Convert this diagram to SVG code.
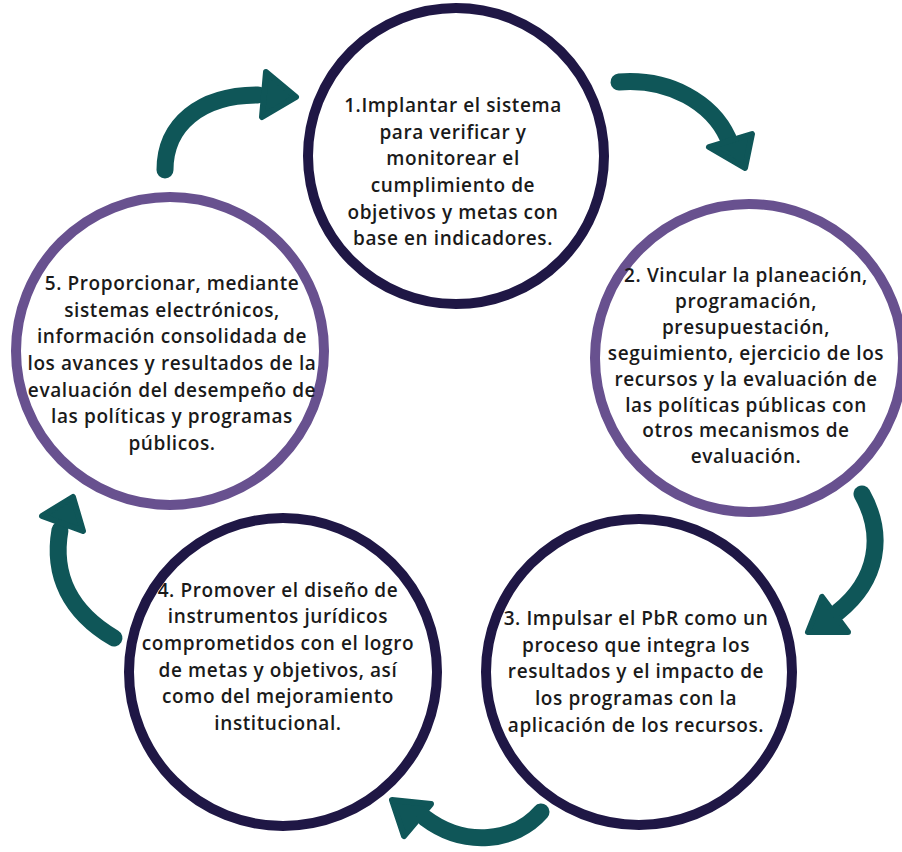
<svg xmlns="http://www.w3.org/2000/svg" width="902" height="852" viewBox="0 0 902 852">
<defs>
<style>
.navy{fill:#ffffff;stroke:#1f1745;stroke-width:10}
.purple{fill:#ffffff;stroke:#68518f;stroke-width:10}
.lbl{font-family:"Open Sans","Liberation Sans",sans-serif;font-weight:600;font-size:19px;letter-spacing:0.6px;fill:#1a1a1a;text-anchor:middle}
.shaft{fill:none;stroke:#0f5658;stroke-width:17;stroke-linecap:round}
.head{fill:#0f5658;stroke:#0f5658;stroke-width:6;stroke-linejoin:round}
</style>
</defs>
<rect width="902" height="852" fill="#ffffff"/>
<g id="connectors">
<path class="shaft" d="M165,170 C165,125 200,95 258,95"/>
<polygon class="head" points="266,72 296,97 262,117"/>
<path class="shaft" d="M619,82 C670,78 712,103 728,138"/>
<polygon class="head" points="709,147 752,134 745,168"/>
<path class="shaft" d="M862,494 C885,535 878,580 838,612"/>
<polygon class="head" points="822,597 808,632 848,632"/>
<path class="shaft" d="M541,812 C515,842 465,848 425,818"/>
<polygon class="head" points="392,800 431,804 404,836"/>
<path class="shaft" d="M114,638 C70,612 52,575 60,530"/>
<polygon class="head" points="42,516 73,497 83,531"/>
</g>
<g id="node1">
<circle class="navy" cx="456" cy="156" r="148"/>
<text class="lbl"><tspan x="453" y="112">1.Implantar el sistema</tspan><tspan x="453" y="138.7">para verificar y</tspan><tspan x="453" y="165.3">monitorear el</tspan><tspan x="453" y="192">cumplimiento de</tspan><tspan x="453" y="218.7">objetivos y metas con</tspan><tspan x="453" y="245.3">base en indicadores.</tspan></text>
</g>
<g id="node2">
<circle class="purple" cx="749" cy="358" r="154"/>
<text class="lbl"><tspan x="746" y="282">2. Vincular la planeación,</tspan><tspan x="746" y="308">programación,</tspan><tspan x="746" y="334">presupuestación,</tspan><tspan x="746" y="360">seguimiento, ejercicio de los</tspan><tspan x="746" y="386">recursos y la evaluación de</tspan><tspan x="746" y="412">las políticas públicas con</tspan><tspan x="746" y="437">otros mecanismos de</tspan><tspan x="746" y="463">evaluación.</tspan></text>
</g>
<g id="node3">
<circle class="navy" cx="639" cy="672" r="153"/>
<text class="lbl"><tspan x="636" y="625">3. Impulsar el PbR como un</tspan><tspan x="636" y="651.7">proceso que integra los</tspan><tspan x="636" y="678.3">resultados y el impacto de</tspan><tspan x="636" y="705">los programas con la</tspan><tspan x="636" y="731.7">aplicación de los recursos.</tspan></text>
</g>
<g id="node4">
<circle class="navy" cx="283" cy="672" r="154"/>
<text class="lbl"><tspan x="278" y="596.7">4. Promover el diseño de</tspan><tspan x="278" y="623.3">instrumentos jurídicos</tspan><tspan x="278" y="650">comprometidos con el logro</tspan><tspan x="278" y="676.7">de metas y objetivos, así</tspan><tspan x="278" y="703.3">como del mejoramiento</tspan><tspan x="278" y="730">institucional.</tspan></text>
</g>
<g id="node5">
<circle class="purple" cx="170" cy="351" r="154"/>
<text class="lbl"><tspan x="172" y="290">5. Proporcionar, mediante</tspan><tspan x="172" y="316.7">sistemas electrónicos,</tspan><tspan x="172" y="343.3">información consolidada de</tspan><tspan x="172" y="370">los avances y resultados de la</tspan><tspan x="172" y="396.7">evaluación del desempeño de</tspan><tspan x="172" y="423.3">las políticas y programas</tspan><tspan x="172" y="450">públicos.</tspan></text>
</g>
</svg>
